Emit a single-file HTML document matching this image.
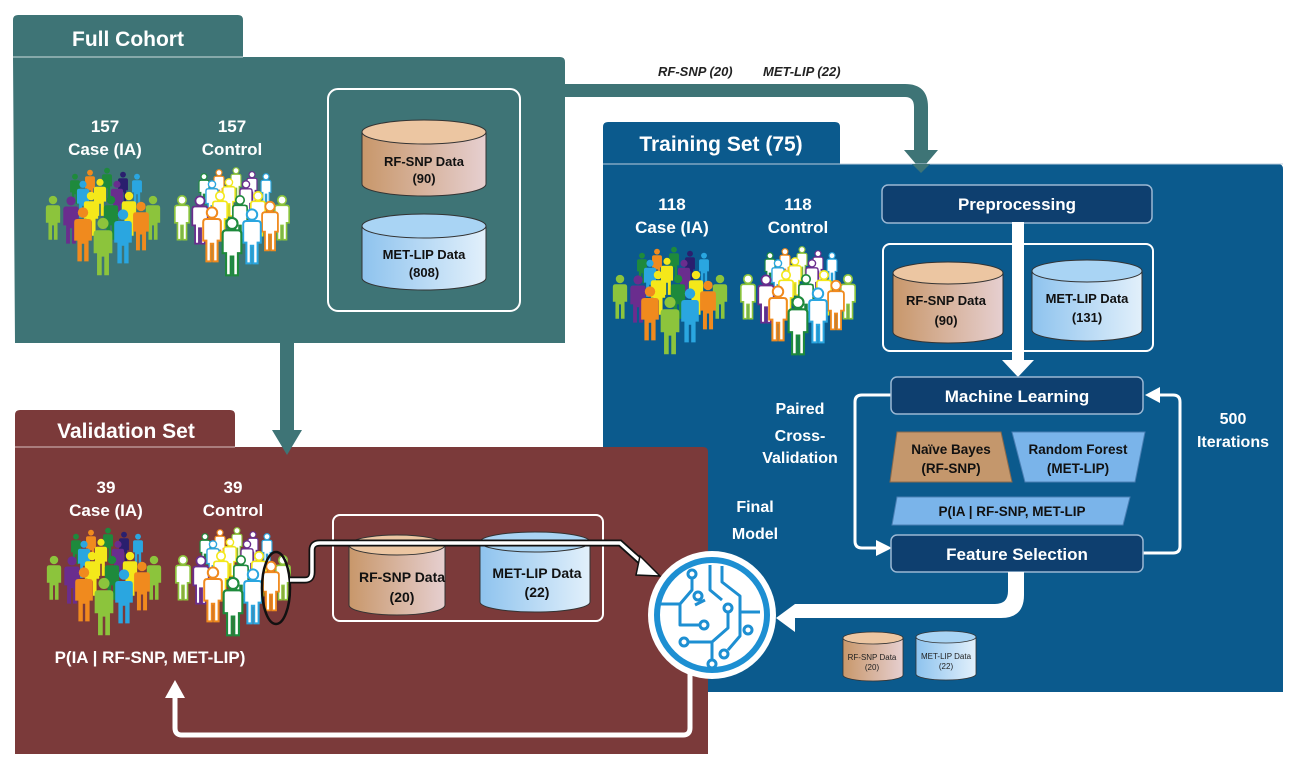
<!DOCTYPE html>
<html><head><meta charset="utf-8"><style>
html,body{margin:0;padding:0;background:#fff;}
svg{display:block;font-family:"Liberation Sans",Arial,sans-serif;font-weight:bold;}
</style></head><body>
<svg width="1310" height="768" viewBox="0 0 1310 768" xmlns="http://www.w3.org/2000/svg">
<defs>
<linearGradient id="tan" x1="0" x2="1" y1="0" y2="0"><stop offset="0" stop-color="#c8976a"/><stop offset="1" stop-color="#e6cfd0"/></linearGradient>
<linearGradient id="sky" x1="0" x2="1" y1="0" y2="0"><stop offset="0" stop-color="#8ec3ee"/><stop offset="1" stop-color="#e2f0fb"/></linearGradient>
<g id="p"><circle cx="0" cy="-23" r="6.5"/><path d="M-11,-11 Q-11,-15 -7,-15 H7 Q11,-15 11,-11 V12 H7 V38 H1.5 V16 H-1.5 V38 H-7 V12 H-11 Z"/></g>
<g id="caseG">
 <use href="#p" transform="translate(30,22) scale(.45)" fill="#1e8a3c"/>
 <use href="#p" transform="translate(45,18) scale(.45)" fill="#f08a1e"/>
 <use href="#p" transform="translate(62,16) scale(.45)" fill="#1e8a3c"/>
 <use href="#p" transform="translate(78,20) scale(.45)" fill="#2a1f6e"/>
 <use href="#p" transform="translate(92,22) scale(.45)" fill="#2aa6e0"/>
 <use href="#p" transform="translate(38,32) scale(.55)" fill="#2aa6e0"/>
 <use href="#p" transform="translate(55,30) scale(.55)" fill="#f4e81a"/>
 <use href="#p" transform="translate(72,32) scale(.55)" fill="#6a2d8e"/>
 <use href="#p" transform="translate(8,50) scale(.65)" fill="#8cc43c"/>
 <use href="#p" transform="translate(108,50) scale(.65)" fill="#8cc43c"/>
 <use href="#p" transform="translate(26,52) scale(.7)" fill="#6a2d8e"/>
 <use href="#p" transform="translate(46,46) scale(.65)" fill="#f4e81a"/>
 <use href="#p" transform="translate(66,50) scale(.65)" fill="#1e8a3c"/>
 <use href="#p" transform="translate(84,46) scale(.65)" fill="#f4e81a"/>
 <use href="#p" transform="translate(96,58) scale(.72)" fill="#f08a1e"/>
 <use href="#p" transform="translate(38,66) scale(.8)" fill="#f08a1e"/>
 <use href="#p" transform="translate(78,68) scale(.8)" fill="#2aa6e0"/>
 <use href="#p" transform="translate(58,78) scale(.85)" fill="#8cc43c"/>
</g>
<g id="ctrlG" fill="#fff" stroke-width="2.5">
 <use href="#p" transform="translate(30,22) scale(.45)" stroke="#1e8a3c"/>
 <use href="#p" transform="translate(45,18) scale(.45)" stroke="#f08a1e"/>
 <use href="#p" transform="translate(62,16) scale(.45)" stroke="#8cc43c"/>
 <use href="#p" transform="translate(78,20) scale(.45)" stroke="#6a2d8e"/>
 <use href="#p" transform="translate(92,22) scale(.45)" stroke="#2aa6e0"/>
 <use href="#p" transform="translate(38,32) scale(.55)" stroke="#2aa6e0"/>
 <use href="#p" transform="translate(55,30) scale(.55)" stroke="#f4e81a"/>
 <use href="#p" transform="translate(72,32) scale(.55)" stroke="#6a2d8e"/>
 <use href="#p" transform="translate(8,50) scale(.65)" stroke="#8cc43c"/>
 <use href="#p" transform="translate(108,50) scale(.65)" stroke="#8cc43c"/>
 <use href="#p" transform="translate(26,52) scale(.7)" stroke="#6a2d8e"/>
 <use href="#p" transform="translate(46,46) scale(.65)" stroke="#f4e81a"/>
 <use href="#p" transform="translate(66,50) scale(.65)" stroke="#1e8a3c"/>
 <use href="#p" transform="translate(84,46) scale(.65)" stroke="#f4e81a"/>
 <use href="#p" transform="translate(96,58) scale(.72)" stroke="#f08a1e"/>
 <use href="#p" transform="translate(38,66) scale(.8)" stroke="#f08a1e"/>
 <use href="#p" transform="translate(78,68) scale(.8)" stroke="#2aa6e0"/>
 <use href="#p" transform="translate(58,78) scale(.85)" stroke="#1e8a3c"/>
</g>
</defs>

<!-- Full Cohort -->
<path d="M13,57 V20 Q13,15 18,15 H238 Q243,15 243,20 V57 H560 Q565,57 565,62 V343 H15 Z" fill="#3e7476"/>
<line x1="13" y1="57" x2="243" y2="57" stroke="#cfdede" stroke-width="1"/>
<text x="128" y="46" fill="#fff" font-size="21" text-anchor="middle">Full Cohort</text>
<g fill="#fff" font-size="17" text-anchor="middle">
<text x="105" y="132">157</text><text x="105" y="155">Case (IA)</text>
<text x="232" y="132">157</text><text x="232" y="155">Control</text>
</g>
<use href="#caseG" transform="translate(45,165)"/>
<use href="#ctrlG" transform="translate(174,165)"/>
<rect x="328" y="89" width="192" height="222" rx="10" fill="none" stroke="#fff" stroke-width="2"/>
<!-- cylinders FC -->
<path d="M362,132 V184 A62,12 0 0 0 486,184 V132 Z" fill="url(#tan)" stroke="#333"/>
<ellipse cx="424" cy="132" rx="62" ry="12" fill="#ecc6a2" stroke="#333"/>
<path d="M362,226 V278 A62,12 0 0 0 486,278 V226 Z" fill="url(#sky)" stroke="#333"/>
<ellipse cx="424" cy="226" rx="62" ry="12" fill="#a9d4f4" stroke="#333"/>
<g fill="#111" font-size="13" text-anchor="middle">
<text x="424" y="166">RF-SNP Data</text><text x="424" y="183">(90)</text>
<text x="424" y="259">MET-LIP Data</text><text x="424" y="277">(808)</text>
</g>

<!-- top arrow -->
<path d="M565,84 H905 Q928,84 928,107 V150 H938 L921,170 L904,150 H914 V107 Q914,97 905,97 H565 Z" fill="#3e7476"/>
<text x="658" y="76" font-size="13" font-style="italic" fill="#222">RF-SNP (20)</text>
<text x="763" y="76" font-size="13" font-style="italic" fill="#222">MET-LIP (22)</text>

<!-- Training Set -->
<path d="M603,164 V127 Q603,122 608,122 H835 Q840,122 840,127 V164 H1278 Q1283,164 1283,169 V692 H603 Z" fill="#0b5a8d"/>
<line x1="603" y1="164" x2="1283" y2="164" stroke="#bcd" stroke-width="1"/>
<polygon points="912,164 930,164 921,173" fill="#3e7476"/>
<text x="721" y="151" fill="#fff" font-size="21" text-anchor="middle">Training Set (75)</text>
<g fill="#fff" font-size="17" text-anchor="middle">
<text x="672" y="210">118</text><text x="672" y="233">Case (IA)</text>
<text x="798" y="210">118</text><text x="798" y="233">Control</text>
</g>
<use href="#caseG" transform="translate(612,244)"/>
<use href="#ctrlG" transform="translate(740,244)"/>
<rect x="882" y="185" width="270" height="38" rx="6" fill="#0e3f6f" stroke="#9bb8d4" stroke-width="1.5"/>
<text x="1017" y="210" fill="#fff" font-size="17" text-anchor="middle">Preprocessing</text>
<rect x="883" y="244" width="270" height="107" rx="7" fill="none" stroke="#fff" stroke-width="2"/>
<path d="M893,273 V332 A55,11 0 0 0 1003,332 V273 Z" fill="url(#tan)" stroke="#333"/>
<ellipse cx="948" cy="273" rx="55" ry="11" fill="#ecc6a2" stroke="#333"/>
<path d="M1032,271 V330 A55,11 0 0 0 1142,330 V271 Z" fill="url(#sky)" stroke="#333"/>
<ellipse cx="1087" cy="271" rx="55" ry="11" fill="#a9d4f4" stroke="#333"/>
<g fill="#111" font-size="13" text-anchor="middle">
<text x="946" y="305">RF-SNP Data</text><text x="946" y="325">(90)</text>
<text x="1087" y="303">MET-LIP Data</text><text x="1087" y="322">(131)</text>
</g>
<path d="M1012,222 H1024 V360 H1034 L1018,377 L1002,360 H1012 Z" fill="#fff"/>
<!-- loop -->
<path d="M891,395 H862 Q855,395 855,402 V541 Q855,548 862,548 H878" fill="none" stroke="#fff" stroke-width="3"/>
<polygon points="876,540 892,548 876,556" fill="#fff"/>
<path d="M1143,553 H1173 Q1180,553 1180,546 V402 Q1180,395 1173,395 H1160" fill="none" stroke="#fff" stroke-width="3"/>
<polygon points="1160,387 1145,395 1160,403" fill="#fff"/>
<rect x="891" y="377" width="252" height="37" rx="6" fill="#0e3f6f" stroke="#9bb8d4" stroke-width="1.5"/>
<text x="1017" y="402" fill="#fff" font-size="17" text-anchor="middle">Machine Learning</text>
<polygon points="897,432 1001,432 1012,482 890,482" fill="#c4976c" stroke="#8a6a4c"/>
<polygon points="1012,432 1145,432 1135,482 1025,482" fill="#7ab4ea" stroke="#4a7fb4"/>
<g fill="#111" font-size="13.5" text-anchor="middle">
<text x="951" y="454">Naïve Bayes</text><text x="951" y="473">(RF-SNP)</text>
<text x="1078" y="454">Random Forest</text><text x="1078" y="473">(MET-LIP)</text>
</g>
<polygon points="897,497 1130,497 1123,525 892,525" fill="#7ab4ea" stroke="#4a7fb4"/>
<text x="1012" y="516" fill="#111" font-size="13.5" text-anchor="middle">P(IA | RF-SNP, MET-LIP</text>
<rect x="891" y="535" width="252" height="37" rx="6" fill="#0e3f6f" stroke="#9bb8d4" stroke-width="1.5"/>
<text x="1017" y="560" fill="#fff" font-size="17" text-anchor="middle">Feature Selection</text>
<g fill="#fff" font-size="16" text-anchor="middle">
<text x="800" y="414">Paired</text><text x="800" y="441">Cross-</text><text x="800" y="463">Validation</text>
<text x="1233" y="424">500</text><text x="1233" y="447">Iterations</text>
<text x="755" y="512">Final</text><text x="755" y="539">Model</text>
</g>
<path d="M1008,572 H1024 V595 Q1024,618 1001,618 H795 V632 L776,618 L795,604 V604 H995 Q1008,604 1008,591 Z" fill="#fff"/>
<!-- small cylinders -->
<path d="M843,638 V675 A30,6 0 0 0 903,675 V638 Z" fill="url(#tan)" stroke="#333" stroke-width=".8"/>
<ellipse cx="873" cy="638" rx="30" ry="6" fill="#ecc6a2" stroke="#333" stroke-width=".8"/>
<path d="M916,637 V674 A30,6 0 0 0 976,674 V637 Z" fill="url(#sky)" stroke="#333" stroke-width=".8"/>
<ellipse cx="946" cy="637" rx="30" ry="6" fill="#a9d4f4" stroke="#333" stroke-width=".8"/>
<g fill="#222" font-size="8" font-weight="normal" text-anchor="middle">
<text x="872" y="660">RF-SNP Data</text><text x="872" y="670">(20)</text>
<text x="946" y="659">MET-LIP Data</text><text x="946" y="669">(22)</text>
</g>

<!-- Validation -->
<path d="M15,447 V415 Q15,410 20,410 H230 Q235,410 235,415 V447 H703 Q708,447 708,452 V754 H15 Z" fill="#7b3a3a"/>
<line x1="15" y1="447" x2="235" y2="447" stroke="#d9c0c0" stroke-width="1"/>
<text x="126" y="438" fill="#fff" font-size="21" text-anchor="middle">Validation Set</text>
<!-- down arrow -->
<path d="M280,343 H294 V430 H302 L287,455 L272,430 H280 Z" fill="#3e7476"/>
<g fill="#fff" font-size="17" text-anchor="middle">
<text x="106" y="493">39</text><text x="106" y="516">Case (IA)</text>
<text x="233" y="493">39</text><text x="233" y="516">Control</text>
</g>
<use href="#caseG" transform="translate(46,525)"/>
<use href="#ctrlG" transform="translate(175,525)"/>
<ellipse cx="276" cy="588" rx="14" ry="36" fill="none" stroke="#111" stroke-width="2.5"/>
<rect x="333" y="515" width="270" height="106" rx="7" fill="none" stroke="#fff" stroke-width="2"/>
<path d="M349,545 V605 A48,10 0 0 0 445,605 V545 Z" fill="url(#tan)" stroke="#333"/>
<ellipse cx="397" cy="545" rx="48" ry="10" fill="#ecc6a2" stroke="#333"/>
<path d="M480,542 V602 A55,10 0 0 0 590,602 V542 Z" fill="url(#sky)" stroke="#333"/>
<ellipse cx="535" cy="542" rx="55" ry="10" fill="#a9d4f4" stroke="#333"/>
<!-- white connector with black outline -->
<path d="M290,580 H305 Q312,580 312,572 V550 Q312,543 320,543 H620 L648,568" fill="none" stroke="#111" stroke-width="7"/>
<path d="M290,580 H305 Q312,580 312,572 V550 Q312,543 320,543 H620 L648,568" fill="none" stroke="#fff" stroke-width="3.5"/>
<polygon points="640,556 660,576 636,575" fill="#fff" stroke="#111" stroke-width="1.5"/>
<g fill="#111" font-size="14" text-anchor="middle">
<text x="402" y="582">RF-SNP Data</text><text x="402" y="602">(20)</text>
<text x="537" y="578">MET-LIP Data</text><text x="537" y="597">(22)</text>
</g>
<text x="150" y="663" fill="#fff" font-size="17" text-anchor="middle">P(IA | RF-SNP, MET-LIP)</text>
<path d="M690,670 V728 Q690,735 683,735 H182 Q175,735 175,728 V698" fill="none" stroke="#fff" stroke-width="5"/>
<polygon points="165,698 175,680 185,698" fill="#fff"/>

<!-- neural circle -->
<circle cx="712" cy="615" r="64" fill="#fff"/>
<circle cx="712" cy="615" r="55" fill="#fff" stroke="#1d8fd2" stroke-width="6"/>
<g fill="none" stroke="#1d8fd2" stroke-width="3" stroke-linejoin="round">
<path d="M660,604 H680 L692,590 V578"/><circle cx="692" cy="574" r="4"/>
<path d="M680,604 V625 H700"/><circle cx="704" cy="625" r="4"/>
<path d="M688,642 H712 V660"/><circle cx="712" cy="664" r="4"/><circle cx="684" cy="642" r="4"/>
<path d="M712,642 L728,628 V612"/><circle cx="728" cy="608" r="4"/>
<path d="M710,565 V590 L722,600"/><circle cx="710" cy="595" r="0"/>
<path d="M722,566 V582 L740,596 V636 L728,650"/><circle cx="724" cy="654" r="4"/>
<path d="M740,612 H760"/><circle cx="748" cy="630" r="4"/>
<path d="M695,605 L705,600"/><circle cx="698" cy="596" r="4"/>
</g>
</svg>
</body></html>
